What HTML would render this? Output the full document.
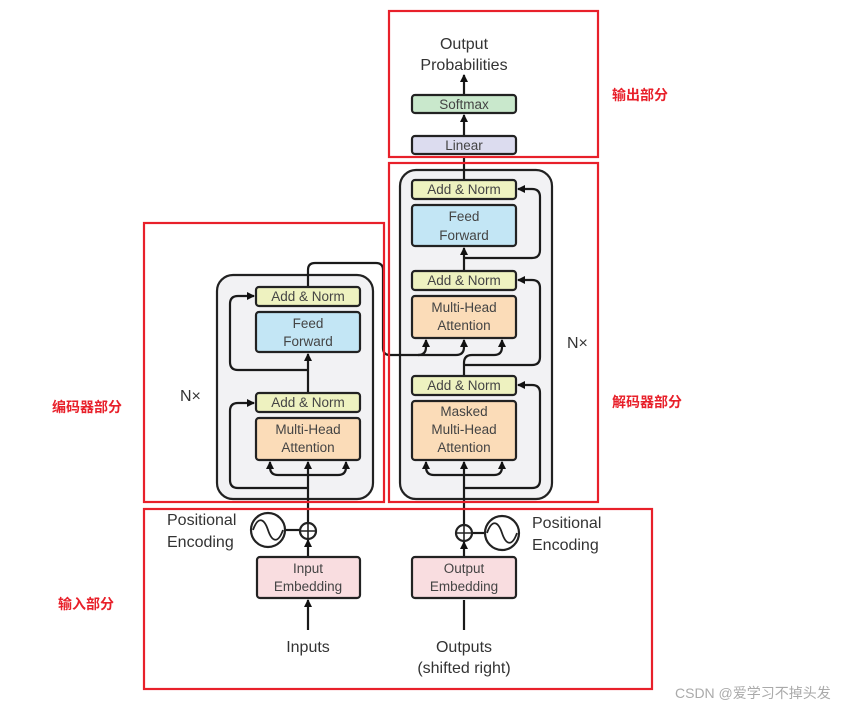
<!DOCTYPE html>
<html><head><meta charset="utf-8"><style>
body{margin:0;background:#fff;}
svg{display:block;font-family:"Liberation Sans","Noto Sans CJK SC",sans-serif;}
.b{stroke:#222;stroke-width:2.2;}
.t{font-size:13.5px;fill:#444;text-anchor:middle;}
.l{font-size:16px;fill:#333;}
.r{fill:#e8202a;font-weight:bold;font-size:14px;}
.w{fill:none;stroke:#1a1a1a;stroke-width:2.2;}
</style></head><body>
<svg width="862" height="708" viewBox="0 0 862 708">
<defs><marker id="a" markerWidth="10" markerHeight="10" refX="7" refY="4.5" orient="auto" markerUnits="userSpaceOnUse"><path d="M0,0.5 L8,4.5 L0,8.5 Z" fill="#111"/></marker></defs>
<rect x="217" y="275" width="156" height="224" rx="16" fill="#f2f2f4" class="b"/>
<rect x="400" y="170" width="152" height="329" rx="16" fill="#f2f2f4" class="b"/>
<g class="w">
<path d="M308,630 L308,600" marker-end="url(#a)"/>
<path d="M308,557 L308,540" marker-end="url(#a)"/>
<path d="M308,523 L308,462" marker-end="url(#a)"/>
<path d="M308,475 L278,475 Q270,475 270,467 L270,462" marker-end="url(#a)"/>
<path d="M308,475 L338,475 Q346,475 346,467 L346,462" marker-end="url(#a)"/>
<path d="M308,488 L238,488 Q230,488 230,480 L230,411 Q230,403 238,403 L254,403" marker-end="url(#a)"/>
<path d="M308,393 L308,354" marker-end="url(#a)"/>
<path d="M308,370 L238,370 Q230,370 230,362 L230,304 Q230,296 238,296 L254,296" marker-end="url(#a)"/>
<path d="M308,287 L308,270 Q308,263 315,263 L376,263 Q383,263 383,270 L383,348 Q383,355 390,355 L456,355"/>
<path d="M418,355 Q426,355 426,347 L426,340" marker-end="url(#a)"/>
<path d="M456,355 Q464,355 464,347 L464,340" marker-end="url(#a)"/>
<path d="M464,630 L464,600"/>
<path d="M464,557 L464,542" marker-end="url(#a)"/>
<path d="M464,525 L464,462" marker-end="url(#a)"/>
<path d="M464,475 L434,475 Q426,475 426,467 L426,462" marker-end="url(#a)"/>
<path d="M464,475 L494,475 Q502,475 502,467 L502,462" marker-end="url(#a)"/>
<path d="M464,488 L532,488 Q540,488 540,480 L540,393 Q540,385 532,385 L518,385" marker-end="url(#a)"/>
<path d="M464,376 L464,363 Q464,355 472,355 L494,355 Q502,355 502,347 L502,340" marker-end="url(#a)"/>
<path d="M464,365 L532,365 Q540,365 540,357 L540,288 Q540,280 532,280 L518,280" marker-end="url(#a)"/>
<path d="M464,271 L464,248" marker-end="url(#a)"/>
<path d="M464,258 L532,258 Q540,258 540,250 L540,197 Q540,189 532,189 L518,189" marker-end="url(#a)"/>
<path d="M464,180 L464,156"/>
<path d="M464,136 L464,115" marker-end="url(#a)"/>
<path d="M464,95 L464,75" marker-end="url(#a)"/>
<path d="M285,530 L301,530"/>
<path d="M471,533 L485,533"/>
</g>
<rect x="256" y="287" width="104" height="19" rx="3" fill="#eef2c0" class="b"/>
<text x="308" y="301" class="t">Add &amp; Norm</text>
<rect x="256" y="312" width="104" height="40" rx="3" fill="#c3e6f5" class="b"/>
<text x="308" y="328" class="t">Feed</text><text x="308" y="346" class="t">Forward</text>
<rect x="256" y="393" width="104" height="19" rx="3" fill="#eef2c0" class="b"/>
<text x="308" y="407" class="t">Add &amp; Norm</text>
<rect x="256" y="418" width="104" height="42" rx="3" fill="#fbdcb8" class="b"/>
<text x="308" y="434" class="t">Multi-Head</text><text x="308" y="452" class="t">Attention</text>
<rect x="412" y="180" width="104" height="19" rx="3" fill="#eef2c0" class="b"/>
<text x="464" y="194" class="t">Add &amp; Norm</text>
<rect x="412" y="205" width="104" height="41" rx="3" fill="#c3e6f5" class="b"/>
<text x="464" y="221" class="t">Feed</text><text x="464" y="240" class="t">Forward</text>
<rect x="412" y="271" width="104" height="19" rx="3" fill="#eef2c0" class="b"/>
<text x="464" y="285" class="t">Add &amp; Norm</text>
<rect x="412" y="296" width="104" height="42" rx="3" fill="#fbdcb8" class="b"/>
<text x="464" y="312" class="t">Multi-Head</text><text x="464" y="330" class="t">Attention</text>
<rect x="412" y="376" width="104" height="19" rx="3" fill="#eef2c0" class="b"/>
<text x="464" y="390" class="t">Add &amp; Norm</text>
<rect x="412" y="401" width="104" height="59" rx="3" fill="#fbdcb8" class="b"/>
<text x="464" y="416" class="t">Masked</text><text x="464" y="434" class="t">Multi-Head</text><text x="464" y="452" class="t">Attention</text>
<rect x="412" y="136" width="104" height="18" rx="3" fill="#dcdcef" class="b"/>
<text x="464" y="150" class="t">Linear</text>
<rect x="412" y="95" width="104" height="18" rx="3" fill="#c9e8cc" class="b"/>
<text x="464" y="109" class="t">Softmax</text>
<text x="464" y="49" class="l" text-anchor="middle">Output</text>
<text x="464" y="70" class="l" text-anchor="middle">Probabilities</text>
<text x="180" y="401" class="l">N×</text>
<text x="567" y="348" class="l">N×</text>
<rect x="257" y="557" width="103" height="41" rx="3" fill="#f9dde0" class="b"/>
<text x="308" y="573" class="t">Input</text><text x="308" y="591" class="t">Embedding</text>
<rect x="412" y="557" width="104" height="41" rx="3" fill="#f9dde0" class="b"/>
<text x="464" y="573" class="t">Output</text><text x="464" y="591" class="t">Embedding</text>
<circle cx="268" cy="530" r="17" fill="#fff" class="b"/>
<path d="M253,530 C258,516 264,518 268,530 C272,542 278,544 283,530" fill="none" stroke="#222" stroke-width="1.8"/>
<circle cx="308" cy="531" r="8" fill="#fff" class="b"/>
<path d="M300,531 H316 M308,523 V539" stroke="#222" stroke-width="1.6"/>
<circle cx="502" cy="533" r="17" fill="#fff" class="b"/>
<path d="M487,533 C492,519 498,521 502,533 C506,545 512,547 517,533" fill="none" stroke="#222" stroke-width="1.8"/>
<circle cx="464" cy="533" r="8" fill="#fff" class="b"/>
<path d="M456,533 H472 M464,525 V541" stroke="#222" stroke-width="1.6"/>
<text x="167" y="525" class="l">Positional</text><text x="167" y="547" class="l">Encoding</text>
<text x="532" y="528" class="l">Positional</text><text x="532" y="550" class="l">Encoding</text>
<text x="308" y="652" class="l" text-anchor="middle">Inputs</text>
<text x="464" y="652" class="l" text-anchor="middle">Outputs</text>
<text x="464" y="673" class="l" text-anchor="middle">(shifted right)</text>
<g fill="none" stroke="#e8202a" stroke-width="2.2">
<rect x="389" y="11" width="209" height="146"/>
<rect x="389" y="163" width="209" height="339"/>
<rect x="144" y="223" width="240" height="279"/>
<rect x="144" y="509" width="508" height="180"/>
</g>
<text x="612" y="100" class="r">输出部分</text>
<text x="612" y="407" class="r">解码器部分</text>
<text x="52" y="412" class="r">编码器部分</text>
<text x="58" y="609" class="r">输入部分</text>
<text x="675" y="698" font-size="14" fill="#aaa">CSDN @爱学习不掉头发</text>
</svg>
</body></html>
